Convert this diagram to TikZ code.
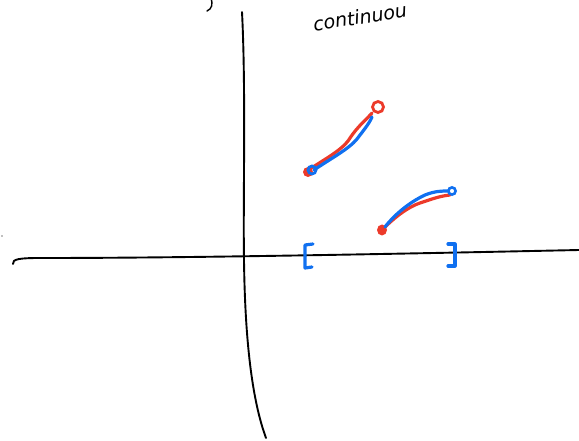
\documentclass[tikz,border=0pt]{standalone}
\usepackage{fontspec}
\setmainfont{DejaVu Sans}
\definecolor{penred}{RGB}{236,58,42}
\definecolor{penblue}{RGB}{16,112,240}
\tikzset{
  ink/.style={line width=1.9pt, line cap=round, line join=round},
  redink/.style={line width=3.2pt, penred, line cap=round, line join=round},
  blueink/.style={line width=3.2pt, penblue, line cap=round, line join=round},
}
\begin{document}
\begin{tikzpicture}[x=1pt,y=-1pt]
\useasboundingbox (0,0) rectangle (579,441);
\begin{scope}
\clip (0,0) rectangle (579,441);
% axes
\draw[ink] (242,12) .. controls (246,90) and (243,200) .. (244,260) .. controls (245,340) and (252,400) .. (266,438);
\draw[ink] (13,264) .. controls (12,259) and (20,258) .. (40,258) .. controls (150,258) and (300,256) .. (579,250);
\fill[gray] (2,236) circle (0.9);
% top fragments
\draw[ink,line width=1.4pt] (211,-2) .. controls (213,4) and (212,9) .. (207,11);
\node[coordinate] (txt) at (360,17) {};
\node[rotate=9, font=\itshape\fontsize{19}{19}\selectfont, inner sep=0pt] (label) at (txt) {continuou};
% first piece
\draw[redink] (307,171) .. controls (323,160) and (343,150) .. (350,138) .. controls (358,126) and (366,120) .. (372,113);
\draw[penred,line width=2.8pt] (378,107) circle (5.5);
\fill[penred] (308,172) circle (5);
\draw[blueink] (314,170) .. controls (330,159) and (349,149) .. (357,139) .. controls (363,131) and (369,124) .. (372,117);
\draw[penblue,line width=2.8pt] (312,170) circle (4);
% second piece
\draw[redink] (383,229) .. controls (395,217) and (408,207) .. (420,203) .. controls (432,199) and (440,196) .. (450,195);
\fill[penred] (382,230) ellipse (5 and 5.5);
\draw[blueink] (385,227) .. controls (395,214) and (410,202) .. (425,195) .. controls (435,191) and (442,191) .. (448,191);
\draw[penblue,line width=2.6pt] (452,191) circle (3.6);
% interval brackets
\draw[blueink] (313,244) -- (305,245) -- (305,268) -- (312,267);
\draw[blueink] (448,244) -- (455,244) -- (455,266) -- (448,266);
\end{scope}
\end{tikzpicture}
\end{document}
